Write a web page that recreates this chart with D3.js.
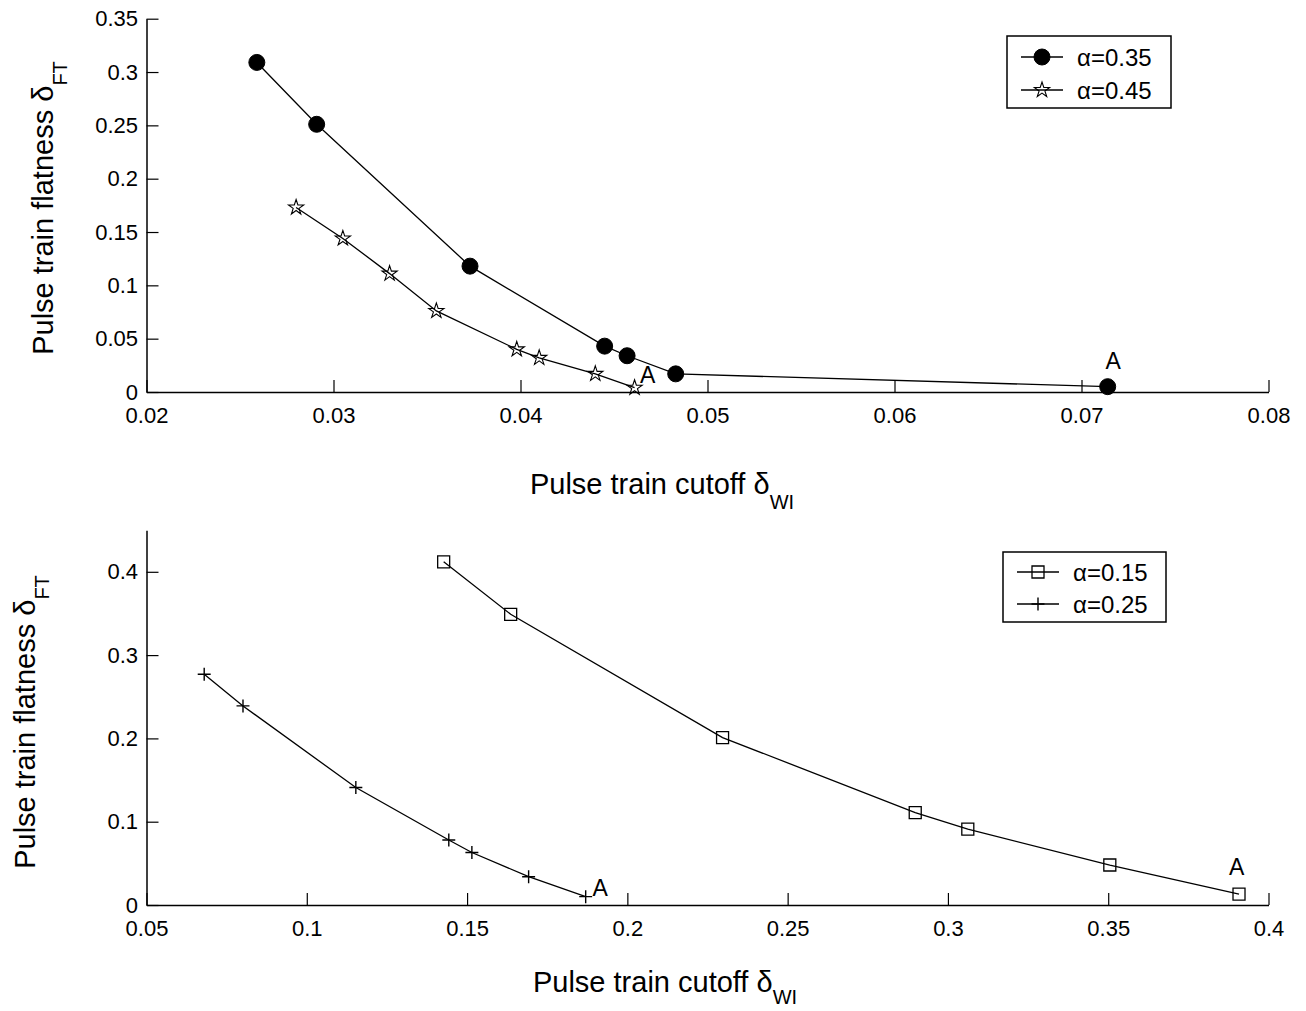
<!DOCTYPE html>
<html>
<head>
<meta charset="utf-8">
<script src="https://cdn.jsdelivr.net/npm/d3@7"></script>
<style>
  body { margin: 0; background: #fff; }
  text { font-family: "Liberation Sans", Arial, Helvetica, sans-serif; fill: #000; }
</style>
</head>
<body>
<svg id="chart" width="1306" height="1011"></svg>
<script>
// ---------------- data ----------------
// Top panel
const topCutoff035 = [0.0259, 0.0291, 0.0373, 0.0445, 0.0457, 0.0483, 0.0714];
const topFlat035   = [0.309, 0.251, 0.118, 0.043, 0.034, 0.017, 0.005];
const topCutoff045 = [0.0280, 0.0305, 0.0330, 0.0355, 0.0398, 0.0410, 0.0440, 0.0461];
const topFlat045   = [0.173, 0.144, 0.111, 0.076, 0.040, 0.032, 0.017, 0.004];
// Bottom panel
const botCutoff015 = [0.1427, 0.1636, 0.2297, 0.2898, 0.3062, 0.3505, 0.3908];
const botFlat015   = [0.412, 0.349, 0.201, 0.111, 0.091, 0.048, 0.013];
const botCutoff025 = [0.0680, 0.0801, 0.1153, 0.1443, 0.1515, 0.1692, 0.1870];
const botFlat025   = [0.277, 0.239, 0.141, 0.078, 0.063, 0.034, 0.010];

// Tick values
const topXTicks = [0.02, 0.03, 0.04, 0.05, 0.06, 0.07, 0.08];
const topYTicks = [0, 0.05, 0.1, 0.15, 0.2, 0.25, 0.3, 0.35];
const botXTicks = [0.05, 0.1, 0.15, 0.2, 0.25, 0.3, 0.35, 0.4];
const botYTicks = [0, 0.1, 0.2, 0.3, 0.4];

// Legend labels
const topLegend = ["α=0.35", "α=0.45"];
const botLegend = ["α=0.15", "α=0.25"];

// Point "A" annotations (data coordinates of the label baseline centre)
const topAnnotX = [0.0468, 0.0717];
const topAnnotY = [0.0084, 0.0215];
const botAnnotX = [0.1915, 0.3901];
const botAnnotY = [0.0108, 0.036];
const annotText = "A";

// Axis titles
const xTitleMain = "Pulse train cutoff δ", xTitleSub = "WI";
const yTitleMain = "Pulse train flatness δ", yTitleSub = "FT";

// ---------------- symbols ----------------
const symStar = {
  draw(ctx, size) {
    const R = Math.sqrt(size), r = R * 0.382;
    for (let k = 0; k < 10; k++) {
      const a = -Math.PI / 2 + k * Math.PI / 5;
      const rr = k % 2 ? r : R;
      const px = rr * Math.cos(a), py = rr * Math.sin(a);
      if (k === 0) ctx.moveTo(px, py); else ctx.lineTo(px, py);
    }
    ctx.closePath();
  }
};
const symPlus = {
  draw(ctx, size) {
    const r = Math.sqrt(size);
    ctx.moveTo(-r, 0); ctx.lineTo(r, 0);
    ctx.moveTo(0, -r); ctx.lineTo(0, r);
  }
};
const markerStyles = {
  circle: { gen: d3.symbol().type(d3.symbolCircle).size(Math.PI * 64), fill: "#000", sw: 1 },
  star:   { gen: d3.symbol().type(symStar).size(64), fill: "none", sw: 1.1 },
  square: { gen: d3.symbol().type(d3.symbolSquare).size(144), fill: "none", sw: 1.3 },
  plus:   { gen: d3.symbol().type(symPlus).size(42), fill: "none", sw: 1.4 }
};

const svg = d3.select("#chart");
const fmt = d => String(d);

function panel(cfg) {
  const x = d3.scaleLinear().domain(cfg.xDomain).range([146.5, 1268.5]);
  const y = d3.scaleLinear().domain(cfg.yDomain).range([cfg.y0, cfg.y1]);
  const g = svg.append("g");

  // axes
  const xa = g.append("g").attr("transform", `translate(0,${cfg.y0})`)
    .call(d3.axisBottom(x).tickValues(cfg.xTicks).tickFormat(fmt)
      .tickSizeInner(-12).tickSizeOuter(0).tickPadding(15.5));
  const ya = g.append("g").attr("transform", `translate(146.5,0)`)
    .call(d3.axisLeft(y).tickValues(cfg.yTicks).tickFormat(fmt)
      .tickSizeInner(-12).tickSizeOuter(0).tickPadding(8.5));
  [xa, ya].forEach(a => {
    a.select(".domain").attr("stroke", "#000").attr("stroke-width", 1.5);
    a.selectAll(".tick line").attr("stroke", "#000").attr("stroke-width", 1.2);
    a.selectAll(".tick text").attr("font-size", 22).attr("fill", "#000")
      .style("font-family", '"Liberation Sans", Arial, sans-serif');
  });

  // series
  const line = d3.line().x(d => x(d[0])).y(d => y(d[1]));
  cfg.series.forEach(s => {
    const pts = s.xs.map((v, i) => [v, s.ys[i]]);
    g.append("path").attr("d", line(pts)).attr("fill", "none")
      .attr("stroke", "#000").attr("stroke-width", 1.3);
    const st = markerStyles[s.marker];
    g.selectAll(null).data(pts).enter().append("path")
      .attr("transform", d => `translate(${x(d[0])},${y(d[1])})`)
      .attr("d", st.gen()).attr("fill", st.fill)
      .attr("stroke", "#000").attr("stroke-width", st.sw);
  });

  // annotations
  cfg.annX.forEach((ax, i) => {
    g.append("text").attr("x", x(ax)).attr("y", y(cfg.annY[i]))
      .attr("text-anchor", "middle").attr("font-size", 23).text(annotText);
  });

  // legend
  const L = cfg.legend;
  const lg = g.append("g").attr("transform", `translate(${L.x},${L.y})`);
  lg.append("rect").attr("width", L.w).attr("height", L.h)
    .attr("fill", "#fff").attr("stroke", "#000").attr("stroke-width", 1.5);
  cfg.series.forEach((s, i) => {
    const ry = L.rows[i];
    lg.append("line").attr("x1", 14).attr("x2", 56).attr("y1", ry).attr("y2", ry)
      .attr("stroke", "#000").attr("stroke-width", 1.3);
    const st = markerStyles[s.marker];
    lg.append("path").attr("transform", `translate(35,${ry})`).attr("d", st.gen())
      .attr("fill", st.fill).attr("stroke", "#000").attr("stroke-width", st.sw);
    lg.append("text").attr("x", 70).attr("y", ry + 8.5).attr("font-size", 24).text(cfg.legendLabels[i]);
  });

  // x title
  const xt = g.append("text").attr("x", cfg.xTitleX).attr("y", cfg.xTitleY)
    .attr("text-anchor", "middle").attr("font-size", 29);
  xt.append("tspan").text(xTitleMain);
  xt.append("tspan").attr("font-size", 20).attr("dy", cfg.subDy).text(xTitleSub);

  // y title
  const yt = g.append("text")
    .attr("transform", `translate(${cfg.yTitleX},${cfg.yTitleY}) rotate(-90)`)
    .attr("text-anchor", "middle").attr("font-size", 29);
  yt.append("tspan").text(yTitleMain);
  yt.append("tspan").attr("font-size", 20).attr("dy", 14).text(yTitleSub);
}

panel({
  xDomain: [0.02, 0.08], yDomain: [0, 0.35], y0: 392, y1: 18.7,
  xTicks: topXTicks, yTicks: topYTicks,
  series: [
    { xs: topCutoff035, ys: topFlat035, marker: "circle" },
    { xs: topCutoff045, ys: topFlat045, marker: "star" }
  ],
  annX: topAnnotX, annY: topAnnotY,
  legend: { x: 1007, y: 36, w: 164, h: 72, rows: [21, 54] },
  legendLabels: topLegend,
  xTitleX: 662, xTitleY: 494, subDy: 15,
  yTitleX: 53, yTitleY: 208
});

panel({
  xDomain: [0.05, 0.4], yDomain: [0, 0.45], y0: 905, y1: 905 - 0.45 * 833,
  xTicks: botXTicks, yTicks: botYTicks,
  series: [
    { xs: botCutoff015, ys: botFlat015, marker: "square" },
    { xs: botCutoff025, ys: botFlat025, marker: "plus" }
  ],
  annX: botAnnotX, annY: botAnnotY,
  legend: { x: 1003, y: 552, w: 163, h: 70, rows: [20, 52] },
  legendLabels: botLegend,
  xTitleX: 665, xTitleY: 992, subDy: 12,
  yTitleX: 35, yTitleY: 722
});
</script>
</body>
</html>
